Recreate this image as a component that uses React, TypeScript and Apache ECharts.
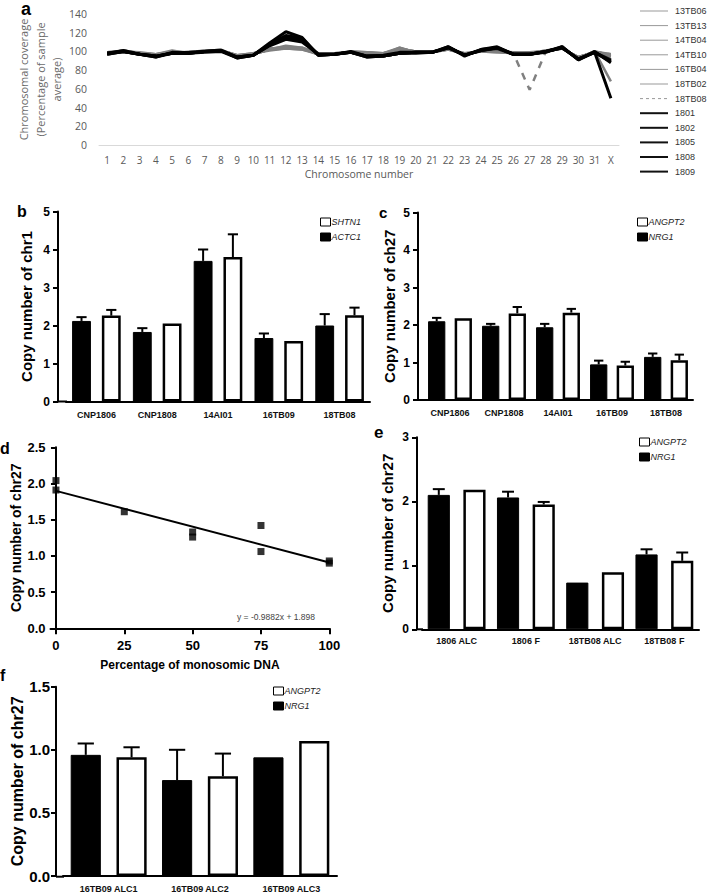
import React, { useEffect, useRef } from 'react';
import * as echarts from 'echarts';

// ---------- Panel a: chromosomal coverage ----------
const chromosomes = ['1','2','3','4','5','6','7','8','9','10','11','12','13','14','15','16','17','18','19','20','21','22','23','24','25','26','27','28','29','30','31','X'];

const cov13TB06 = [99,100,98,97,99,99,100,101,96,97, 102,104,103,98,98,99,98,98,102,100, 100,102,97,100,101,98,98,100,103,94, 99,97];
const cov13TB13 = [98,101,98,96,100,99,100,102,95,97, 102,103,102,97,97,100,99,97,104,99, 100,103,97,101,100,98,99,100,104,93, 100,96];
const cov14TB04 = [99,100,99,97,100,98,101,101,96,98, 103,105,104,98,97,99,99,98,103,100, 99,102,98,100,99,99,98,101,103,94, 99,94];
const cov14TB10 = [98,101,98,96,99,99,100,102,95,97, 102,106,104,97,98,99,98,97,102,100, 100,103,97,101,100,98,98,100,104,93, 100,97];
const cov16TB04 = [99,100,98,97,101,98,100,101,96,98, 101,103,102,98,97,100,99,98,104,99, 99,102,98,100,99,98,99,100,103,94, 99,95];
const cov18TB02 = [98,101,98,96,99,99,101,101,95,97, 103,104,103,97,98,99,98,97,103,100, 100,103,97,101,100,99,98,101,104,93, 100,68];
const cov18TB08 = [99,100,98,96,99,98,100,101,95,97, 102,104,103,97,98,99,98,97,101,99, 100,103,96,100,100,98,59,100,103,93, 99,97];
const cov1801 = [98,100,97,95,98,98,100,101,94,96, 107,114,112,97,97,99,95,95,98,99, 99,104,96,101,103,97,97,100,104,92, 99,91];
const cov1802 = [97,100,97,94,98,98,99,100,93,96, 108,117,114,96,97,99,94,95,98,98, 99,105,95,102,104,97,97,99,105,91, 99,90];
const cov1805 = [98,101,97,95,98,99,100,101,94,96, 106,113,110,97,97,99,95,96,99,99, 99,104,96,101,104,97,97,100,104,92, 99,89];
const cov1808 = [97,100,97,94,99,98,100,101,93,96, 109,121,115,96,97,99,94,95,98,99, 99,105,96,102,105,97,97,100,105,91, 100,88];
const cov1809 = [98,100,97,95,98,98,100,101,94,96, 107,115,113,96,97,100,95,95,98,99, 99,104,96,101,104,97,97,100,104,92, 99,50];

const graySamples = ['13TB06', '13TB13', '14TB04', '14TB10', '16TB04', '18TB02'];
const dashedSamples = ['18TB08'];
const blackSamples = ['1801', '1802', '1805', '1808', '1809'];
const coverageBySample: Record<string, number[]> = {
  '13TB06': cov13TB06, '13TB13': cov13TB13, '14TB04': cov14TB04, '14TB10': cov14TB10,
  '16TB04': cov16TB04, '18TB02': cov18TB02, '18TB08': cov18TB08,
  '1801': cov1801, '1802': cov1802, '1805': cov1805, '1808': cov1808, '1809': cov1809,
};

// ---------- Panel b ----------
const catsB = ['CNP1806', 'CNP1808', '14AI01', '16TB09', '18TB08'];
const actc1B = [2.12, 1.83, 3.70, 1.67, 2.00];
const actc1BErr = [0.10, 0.10, 0.30, 0.12, 0.30];
const shtn1B = [2.26, 2.05, 3.80, 1.59, 2.27];
const shtn1BErr = [0.15, 0, 0.60, 0, 0.20];

// ---------- Panel c ----------
const catsC = ['CNP1806', 'CNP1808', '14AI01', '16TB09', '18TB08'];
const nrg1C = [2.10, 1.98, 1.94, 0.95, 1.15];
const nrg1CErr = [0.09, 0.05, 0.09, 0.10, 0.09];
const angpt2C = [2.18, 2.31, 2.33, 0.92, 1.06];
const angpt2CErr = [0, 0.17, 0.10, 0.10, 0.15];

// ---------- Panel d ----------
const monosomicPct = [0, 0, 25, 50, 50, 75, 75, 100, 100];
const copyChr27D = [2.04, 1.91, 1.61, 1.33, 1.26, 1.42, 1.06, 0.93, 0.90];
const pctTicks = [0, 25, 50, 75, 100];
const fitStart = [0, 1.898];
const fitEnd = [100, 0.910];

// ---------- Panel e ----------
const catsE = ['1806 ALC', '1806 F', '18TB08 ALC', '18TB08 F'];
const nrg1E = [2.10, 2.06, 0.73, 1.17];
const nrg1EErr = [0.09, 0.09, 0, 0.08];
const angpt2E = [2.18, 1.95, 0.89, 1.07];
const angpt2EErr = [0, 0.04, 0, 0.13];

// ---------- Panel f ----------
const catsF = ['16TB09 ALC1', '16TB09 ALC2', '16TB09 ALC3'];
const nrg1F = [0.96, 0.76, 0.94];
const nrg1FErr = [0.09, 0.24, 0];
const angpt2F = [0.94, 0.79, 1.07];
const angpt2FErr = [0.08, 0.18, 0];

const ARIAL = 'Liberation Sans, Arial, sans-serif';
const SEGOE = 'Open Sans, Noto Sans, sans-serif';

function errSeries(idx: number, vals: number[], errs: number[], side: number, barFrac: number, gapFrac: number) {
  const data = vals.map((v, i) => [i, v, errs[i]]).filter((d) => d[2] > 0);
  return {
    type: 'custom',
    xAxisIndex: idx,
    yAxisIndex: idx,
    z: 5,
    silent: true,
    encode: { x: 0, y: 1 },
    data,
    renderItem: (params: any, api: any) => {
      const i = api.value(0);
      const v = api.value(1);
      const e = api.value(2);
      const base = api.coord([i, v]);
      const top = api.coord([i, v + e]);
      const band = api.size([1, 0])[0];
      const bw = band * barFrac;
      const x = base[0] + (side * bw * (1 + gapFrac)) / 2;
      const half = bw * 0.27;
      return {
        type: 'group',
        children: [
          { type: 'line', shape: { x1: x, y1: base[1], x2: x, y2: top[1] }, style: { stroke: '#000', lineWidth: 2 } },
          { type: 'line', shape: { x1: x - half, y1: top[1], x2: x + half, y2: top[1] }, style: { stroke: '#000', lineWidth: 2 } },
        ],
      };
    },
  };
}

function barPair(idx: number, blackName: string, blackVals: number[], whiteName: string, whiteVals: number[], barFrac: number, gapFrac: number) {
  const common = {
    type: 'bar',
    xAxisIndex: idx,
    yAxisIndex: idx,
    barWidth: `${barFrac * 100}%`,
    barGap: `${gapFrac * 100}%`,
  };
  return [
    { ...common, name: blackName, data: blackVals, itemStyle: { color: '#000', borderColor: '#000', borderWidth: 1 } },
    { ...common, name: whiteName, data: whiteVals, itemStyle: { color: '#fff', borderColor: '#000', borderWidth: 2.5 } },
  ];
}

function catXAxis(idx: number, cats: string[], margin: number) {
  return {
    type: 'category',
    gridIndex: idx,
    data: cats,
    axisLine: { show: true, lineStyle: { color: '#000', width: 2 } },
    axisTick: { show: false },
    axisLabel: { interval: 0, margin, color: '#111', fontFamily: ARIAL, fontWeight: 'bold', fontSize: 9 },
  };
}

function valYAxis(idx: number, min: number, max: number, interval: number, offset: number, name: string, nameGap: number, labelSize: number, nameSize: number, labelMargin: number, fmt?: (v: number) => string) {
  return {
    type: 'value',
    gridIndex: idx,
    min, max, interval,
    offset,
    splitLine: { show: false },
    axisLine: { show: true, lineStyle: { color: '#000', width: 2 } },
    axisTick: { show: true, length: 5, lineStyle: { color: '#000', width: 2 } },
    axisLabel: { margin: labelMargin, color: '#000', fontFamily: ARIAL, fontWeight: 'bold', fontSize: labelSize, formatter: fmt },
    name,
    nameLocation: 'middle',
    nameGap,
    nameRotate: 90,
    nameTextStyle: { color: '#000', fontFamily: ARIAL, fontWeight: 'bold', fontSize: nameSize },
  };
}

function barLegend(names: string[], left: number, top: number) {
  return {
    orient: 'vertical',
    left, top,
    padding: 0,
    data: names,
    icon: 'rect',
    itemWidth: 10,
    itemHeight: 8,
    itemGap: 5,
    itemStyle: { borderWidth: 1, borderColor: '#000' },
    selectedMode: false,
    textStyle: { fontSize: 9, fontStyle: 'italic', fontFamily: ARIAL, color: '#222', lineHeight: 10, padding: [0, 0, 0, -4] },
  };
}

function panelTitle(text: string, left: number, top: number, size: number) {
  return { text, left, top, padding: 0, textStyle: { fontFamily: ARIAL, fontWeight: 'bold', fontSize: size, color: '#000' } };
}

function buildOption(): any {
  const lineSeries: any[] = [];
  graySamples.forEach((n) => lineSeries.push({
    type: 'line', name: n, data: coverageBySample[n], xAxisIndex: 0, yAxisIndex: 0, symbol: 'none',
    color: '#808080', lineStyle: { color: '#808080', width: 2.5 },
  }));
  dashedSamples.forEach((n) => lineSeries.push({
    type: 'line', name: n, data: coverageBySample[n], xAxisIndex: 0, yAxisIndex: 0, symbol: 'none',
    color: '#808080', lineStyle: { color: '#808080', width: 2.5, type: [7, 7] },
  }));
  blackSamples.forEach((n, i) => lineSeries.push({
    type: 'line', name: n, data: coverageBySample[n], xAxisIndex: 0, yAxisIndex: 0, symbol: 'none',
    color: '#000', lineStyle: { color: i === 0 ? '#1a1a1a' : '#000', width: 3 },
  }));

  const legendA = {
    orient: 'vertical',
    left: 639,
    top: 6,
    padding: 0,
    itemWidth: 28,
    itemHeight: 10,
    itemGap: 4.6,
    selectedMode: false,
    itemStyle: { color: 'rgba(0,0,0,0)', borderWidth: 0 },
    textStyle: { fontSize: 9, fontFamily: ARIAL, color: '#333', lineHeight: 10, padding: [0, 0, 0, 2] },
    data: [
      ...graySamples.map((n) => ({ name: n, lineStyle: { width: 1, color: '#999' } })),
      ...dashedSamples.map((n) => ({ name: n, lineStyle: { width: 1, color: '#999', type: [3, 3] } })),
      ...blackSamples.map((n) => ({ name: n, lineStyle: { width: 2, color: '#111' } })),
    ],
  };

  return {
    animation: false,
    backgroundColor: '#fff',
    title: [
      panelTitle('a', 21, 0, 18),
      panelTitle('b', 17, 203, 16),
      panelTitle('c', 379, 205, 15),
      panelTitle('d', 0, 440, 16),
      panelTitle('e', 374, 424, 17),
      panelTitle('f', 0, 667, 16),
    ],
    legend: [
      legendA,
      barLegend(['SHTN1', 'ACTC1'], 320, 217),
      barLegend(['ANGPT2', 'NRG1'], 637, 217),
      barLegend(['ANGPT2', 'NRG1'], 639, 437),
      barLegend(['ANGPT2', 'NRG1'], 273, 686),
    ],
    grid: [
      { left: 99, top: 14, width: 520, height: 131 },
      { left: 66, top: 211.5, width: 304, height: 190 },
      { left: 423, top: 212.5, width: 270, height: 187.5 },
      { left: 50.5, top: 447.3, width: 278.8, height: 181 },
      { left: 422, top: 437.3, width: 277, height: 192 },
      { left: 63, top: 686.7, width: 274, height: 190 },
    ],
    xAxis: [
      {
        type: 'category', gridIndex: 0, data: chromosomes,
        axisLine: { show: true, lineStyle: { color: '#d9d9d9', width: 1 } },
        axisTick: { show: false },
        axisLabel: { interval: 0, margin: 10, color: '#595959', fontFamily: SEGOE, fontSize: 10 },
        name: 'Chromosome number', nameLocation: 'middle', nameGap: 23,
        nameTextStyle: { color: '#595959', fontFamily: SEGOE, fontSize: 10.5 },
      },
      catXAxis(1, catsB, 9),
      catXAxis(2, catsC, 8),
      {
        type: 'value', gridIndex: 3, min: -2, max: 100,
        splitLine: { show: false },
        axisLine: { show: true, lineStyle: { color: '#000', width: 2 } },
        axisTick: { show: true, length: 6, lineStyle: { color: '#000', width: 2 }, customValues: pctTicks },
        axisLabel: { margin: 11, color: '#000', fontFamily: ARIAL, fontWeight: 'bold', fontSize: 13, customValues: pctTicks },
        name: 'Percentage of monosomic DNA', nameLocation: 'middle', nameGap: 31,
        nameTextStyle: { color: '#000', fontFamily: ARIAL, fontWeight: 'bold', fontSize: 12 },
      },
      catXAxis(4, catsE, 7),
      catXAxis(5, catsF, 8),
    ],
    yAxis: [
      {
        type: 'value', gridIndex: 0, min: 0, max: 140, interval: 20,
        splitLine: { show: false },
        axisLine: { show: false },
        axisTick: { show: false },
        axisLabel: { margin: 12, color: '#595959', fontFamily: SEGOE, fontSize: 10.5 },
        name: 'Chromosomal coverage\n(Percentage of sample\naverage)',
        nameLocation: 'middle', nameGap: 34, nameRotate: 90, nameMoveOverlap: false,
        nameTextStyle: { color: '#6a6a6a', fontFamily: SEGOE, fontSize: 11, lineHeight: 16.5, align: 'center' },
      },
      valYAxis(1, 0, 5, 1, 8, 'Copy number of chr1', 24, 12, 15, 8),
      valYAxis(2, 0, 5, 1, 5, 'Copy number of ch27', 21, 12, 15, 8),
      valYAxis(3, 0, 2.5, 0.5, 0, 'Copy number of chr27', 28, 13, 14, 5, (v: number) => v.toFixed(1)),
      valYAxis(4, 0, 3, 1, 5, 'Copy number of chr27', 22, 12, 15, 8),
      valYAxis(5, 0, 1.5, 0.5, 7, 'Copy number of chr27', 28, 15, 16, 6, (v: number) => v.toFixed(1)),
    ],
    graphic: [
      { type: 'line', shape: { x1: 58, y1: 401.5, x2: 67, y2: 401.5 }, style: { stroke: '#000', lineWidth: 2 } },
      { type: 'line', shape: { x1: 418, y1: 400, x2: 424, y2: 400 }, style: { stroke: '#000', lineWidth: 2 } },
      { type: 'line', shape: { x1: 417, y1: 629.3, x2: 423, y2: 629.3 }, style: { stroke: '#000', lineWidth: 2 } },
      { type: 'line', shape: { x1: 56, y1: 876.7, x2: 64, y2: 876.7 }, style: { stroke: '#000', lineWidth: 2 } },
      { type: 'text', x: 237, y: 612, style: { text: 'y = -0.9882x + 1.898', fontSize: 8.5, fontFamily: ARIAL, fill: '#444' } },
    ],
    series: [
      ...lineSeries,
      ...barPair(1, 'ACTC1', actc1B, 'SHTN1', shtn1B, 0.31, 0.58),
      errSeries(1, actc1B, actc1BErr, -1, 0.31, 0.58),
      errSeries(1, shtn1B, shtn1BErr, 1, 0.31, 0.58),
      ...barPair(2, 'NRG1', nrg1C, 'ANGPT2', angpt2C, 0.32, 0.54),
      errSeries(2, nrg1C, nrg1CErr, -1, 0.32, 0.54),
      errSeries(2, angpt2C, angpt2CErr, 1, 0.32, 0.54),
      {
        type: 'scatter', name: 'chr27 copy number', xAxisIndex: 3, yAxisIndex: 3,
        data: monosomicPct.map((x, i) => [x, copyChr27D[i]]),
        symbol: 'rect', symbolSize: 7, itemStyle: { color: '#000' },
      },
      {
        type: 'line', name: 'fit', xAxisIndex: 3, yAxisIndex: 3, data: [fitStart, fitEnd],
        symbol: 'none', lineStyle: { color: '#000', width: 2 },
      },
      ...barPair(4, 'NRG1', nrg1E, 'ANGPT2', angpt2E, 0.32, 0.61),
      errSeries(4, nrg1E, nrg1EErr, -1, 0.32, 0.61),
      errSeries(4, angpt2E, angpt2EErr, 1, 0.32, 0.61),
      ...barPair(5, 'NRG1', nrg1F, 'ANGPT2', angpt2F, 0.33, 0.52),
      errSeries(5, nrg1F, nrg1FErr, -1, 0.33, 0.52),
      errSeries(5, angpt2F, angpt2FErr, 1, 0.33, 0.52),
    ],
  };
}

export default function App() {
  const ref = useRef<HTMLDivElement>(null);
  useEffect(() => {
    document.body.style.margin = '0';
    const chart = echarts.init(ref.current!, null, { renderer: 'svg' });
    chart.setOption(buildOption());
    return () => chart.dispose();
  }, []);
  return <div ref={ref} style={{ width: 710, height: 893, background: '#fff' }} />;
}
